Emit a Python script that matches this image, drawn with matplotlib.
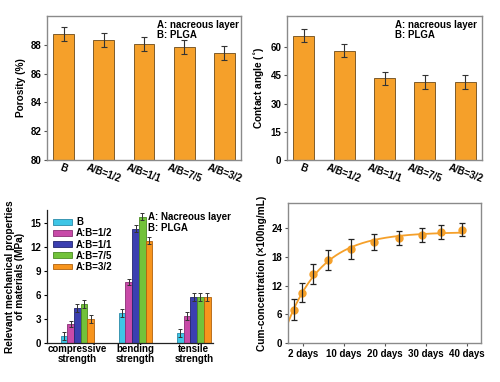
import matplotlib
matplotlib.use('Agg')
import matplotlib.pyplot as plt
import numpy as np

plt.rcParams['font.family'] = ['Liberation Sans', 'DejaVu Sans']
plt.rcParams['font.weight'] = 'bold'
plt.rcParams['axes.labelweight'] = 'bold'

#%% Data
groups = ['B', 'A/B=1/2', 'A/B=1/1', 'A/B=7/5', 'A/B=3/2']
porosity = [88.75, 88.35, 88.05, 87.85, 87.45]
porosity_err = [0.5, 0.5, 0.5, 0.5, 0.5]
angle = [66.0, 58.0, 43.5, 41.5, 41.5]
angle_err = [3.5, 3.5, 3.5, 3.5, 3.5]

mech_tests = ['compressive\nstrength', 'bending\nstrength', 'tensile\nstrength']
mech_labels = ['B', 'A:B=1/2', 'A:B=1/1', 'A:B=7/5', 'A:B=3/2']
mech_vals = {'B':       [0.9, 3.8, 1.2],
             'A:B=1/2': [2.4, 7.6, 3.4],
             'A:B=1/1': [4.4, 14.3, 5.7],
             'A:B=7/5': [4.9, 15.8, 5.8],
             'A:B=3/2': [3.0, 12.8, 5.7]}
mech_err = {'B':       [0.5, 0.5, 0.5],
            'A:B=1/2': [0.4, 0.4, 0.5],
            'A:B=1/1': [0.5, 0.4, 0.5],
            'A:B=7/5': [0.5, 0.4, 0.5],
            'A:B=3/2': [0.5, 0.4, 0.5]}
mech_colors = ['#3ec6e6', '#c84aa8', '#3b3fb0', '#72c23a', '#f7941d']
mech_edges = ['#2a8aa8', '#8a2e74', '#23266e', '#4a8a22', '#b0620e']

release_labels = ['2 days', '10 days', '20 days', '30 days', '40 days']
release_t = [-0.22, -0.02, 0.24, 0.61, 1.17, 1.73, 2.34, 2.90, 3.37, 3.88]
release_c = [7.0, 10.5, 14.4, 17.4, 19.6, 21.1, 22.0, 22.6, 23.2, 23.7]
release_err = [2.2, 2.0, 2.1, 2.1, 2.1, 1.6, 1.5, 1.5, 1.5, 1.4]

orange = '#f5a02a'
frame = '#8a8a8a'
fs = 7

fig = plt.figure(figsize=(5.0, 3.82), dpi=100)

def frame_axes(ax):
    for s in ax.spines.values():
        s.set_color(frame)
        s.set_linewidth(1.0)
    ax.tick_params(labelsize=fs, length=2, width=0.8, color='#555555', pad=2)

#%% Porosity
ax1 = fig.add_axes([0.094, 0.581, 0.388, 0.377])
x = np.arange(len(groups))
ax1.bar(x, porosity, 0.52, yerr=porosity_err, color=orange, edgecolor='#6b4a1a',
        linewidth=0.6, capsize=2.5, error_kw=dict(ecolor='#333333', elinewidth=0.8, capthick=0.8))
ax1.set_ylim(80, 90)
ax1.set_yticks([80, 82, 84, 86, 88])
ax1.set_xlim(-0.41, 4.41)
ax1.set_xticks(x)
ax1.set_xticklabels(groups, rotation=-20, ha='center')
ax1.set_ylabel('Porosity (%)', fontsize=fs + 0.3, labelpad=3)
frame_axes(ax1)
ax1.tick_params(axis='x', length=0)
ax1.text(0.565, 0.97, 'A: nacreous layer\nB: PLGA', transform=ax1.transAxes,
         ha='left', va='top', fontsize=fs, linespacing=0.95)

#%% Contact angle
ax2 = fig.add_axes([0.574, 0.581, 0.39, 0.377])
ax2.bar(x, angle, 0.52, yerr=angle_err, color=orange, edgecolor='#6b4a1a',
        linewidth=0.6, capsize=2.5, error_kw=dict(ecolor='#333333', elinewidth=0.8, capthick=0.8))
ax2.set_ylim(0, 76.5)
ax2.set_yticks([0, 15, 30, 45, 60])
ax2.set_xlim(-0.41, 4.41)
ax2.set_xticks(x)
ax2.set_xticklabels(groups, rotation=-20, ha='center')
ax2.set_ylabel('Contact angle ($\\mathbf{^{\\circ}}$)', fontsize=fs + 0.3, labelpad=3)
frame_axes(ax2)
ax2.tick_params(axis='x', length=0)
ax2.text(0.555, 0.97, 'A: nacreous layer\nB: PLGA', transform=ax2.transAxes,
         ha='left', va='top', fontsize=fs, linespacing=0.95)

#%% Mechanical properties
ax3 = fig.add_axes([0.094, 0.102, 0.332, 0.348])
gx = np.arange(len(mech_tests))
w = 0.115
for i, key in enumerate(mech_labels):
    ax3.bar(gx + (i - 2) * w, mech_vals[key], w, yerr=mech_err[key], color=mech_colors[i],
            edgecolor=mech_edges[i], linewidth=0.6, capsize=1.5, label=key,
            error_kw=dict(ecolor='#333333', elinewidth=0.7, capthick=0.7))
ax3.set_ylim(0, 16.6)
ax3.set_yticks([0, 3, 6, 9, 12, 15])
ax3.set_xlim(-0.52, 2.33)
ax3.set_xticks(gx)
ax3.set_xticklabels(mech_tests, fontsize=fs + 0.5, linespacing=0.95)
ax3.spines['top'].set_visible(False)
ax3.spines['right'].set_visible(False)
for s in ['left', 'bottom']:
    ax3.spines[s].set_color('#222222')
    ax3.spines[s].set_linewidth(0.9)
ax3.tick_params(labelsize=fs, length=2, width=0.8, pad=2)
ax3.tick_params(axis='x', length=0, pad=1)
ax3.set_ylabel('Relevant mechanical properties\nof materials (MPa)', fontsize=fs + 0.3, linespacing=0.95)
ax3.legend(loc='upper left', bbox_to_anchor=(0.0, 0.99), frameon=False, fontsize=fs,
           handlelength=2.0, handleheight=0.55, labelspacing=0.12, handletextpad=0.4, borderaxespad=0.2)
ax3.text(0.61, 0.985, 'A: Nacreous layer\nB: PLGA', transform=ax3.transAxes,
         ha='left', va='top', fontsize=fs, linespacing=1.15)

#%% Release profile
ax4 = fig.add_axes([0.576, 0.102, 0.386, 0.367])
t = np.array(release_t)
c = np.array(release_c)
# saturating fit y = a + b*exp(-k*t), grid search on k
best = None
for k in np.linspace(0.05, 3.0, 600):
    A = np.column_stack([np.ones_like(t), np.exp(-k * t)])
    coef, res, _, _ = np.linalg.lstsq(A, c, rcond=None)
    r = np.sum((A @ coef - c) ** 2)
    if best is None or r < best[0]:
        best = (r, k, coef)
_, k, coef = best
tt = np.linspace(-0.37, t[-1], 200)
ax4.plot(tt, coef[0] + coef[1] * np.exp(-k * tt), color=orange, lw=1.3, zorder=2)
ax4.plot(t, c, 'o', ms=5, color=orange, zorder=3)
ax4.errorbar(t, c, yerr=release_err, fmt='none', ecolor='#222222', elinewidth=0.9,
             capsize=2.5, capthick=0.9, zorder=4)
ax4.set_xlim(-0.37, 4.34)
ax4.set_ylim(0, 29.3)
ax4.set_yticks([0, 6, 12, 18, 24])
ax4.set_xticks(np.arange(len(release_labels)))
ax4.set_xticklabels(release_labels)
ax4.set_ylabel('Cum-concentration (×100ng/mL)', fontsize=fs + 0.3, labelpad=3)
frame_axes(ax4)

fig.savefig('out.png', dpi=100)
